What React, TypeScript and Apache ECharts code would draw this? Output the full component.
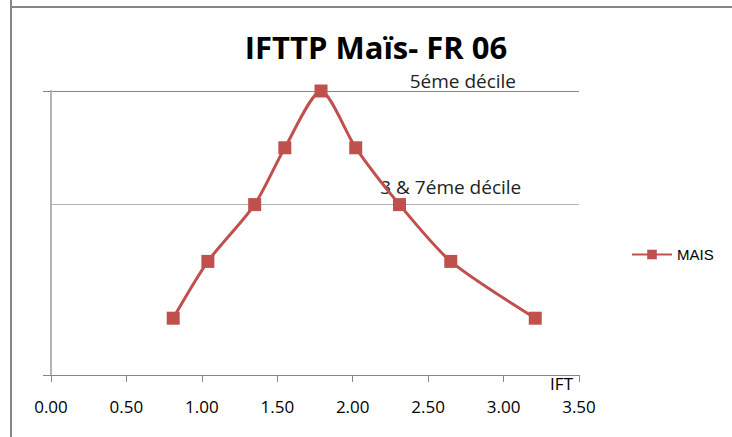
import React, { useEffect, useRef } from "react";
import * as echarts from "echarts";

const seriesName = "MAIS";
const iftValues = [0.81, 1.04, 1.35, 1.55, 1.79, 2.02, 2.31, 2.65, 3.21];
const decileLevels = [1, 2, 3, 4, 5, 4, 3, 2, 1];
const xTicks = { min: 0, max: 3.5, interval: 0.5 };
const decileLabels = [
  { text: "5éme décile", x: 2.73, y: 5 },
  { text: "3 & 7éme décile", x: 2.65, y: 3 },
];
const decileLabelGaps = [0, 8];
const decileLineValue = 3;

export default function App() {
  const ref = useRef<HTMLDivElement>(null);
  useEffect(() => {
    if (!ref.current) return;
    const chart = echarts.init(ref.current, undefined, { renderer: "svg" });
    const font = "'Open Sans', sans-serif";
    chart.setOption({
      animation: false,
      backgroundColor: "#ffffff",
      title: {
        text: "IFTTP Maïs- FR 06",
        left: 371,
        top: 26,
        textAlign: "center",
        textStyle: { fontFamily: font, fontSize: 31, fontWeight: "bold", color: "#000" },
      },
      graphic: [
        { type: "line", shape: { x1: 11, y1: 0, x2: 11, y2: 437 }, style: { stroke: "#878787", lineWidth: 2 } },
        { type: "line", shape: { x1: 10, y1: 7, x2: 732, y2: 7 }, style: { stroke: "#878787", lineWidth: 2 } },
      ],
      legend: {
        left: 626,
        top: 242,
        orient: "vertical",
        itemWidth: 40,
        itemHeight: 12,
        itemGap: 6,
        textStyle: { fontFamily: "'Liberation Sans', Arial, sans-serif", fontSize: 15, color: "#000" },
        data: [seriesName],
      },
      grid: { left: 51, right: 153, top: 91, bottom: 62, containLabel: false },
      xAxis: {
        type: "value",
        min: xTicks.min,
        max: xTicks.max,
        interval: xTicks.interval,
        name: "IFT",
        nameLocation: "end",
        nameGap: 0,
        nameTextStyle: {
          fontFamily: font,
          fontSize: 17,
          color: "#000",
          align: "right",
          verticalAlign: "top",
          padding: [0, 6, 0, 0],
        },
        axisLine: { show: true, onZero: false, lineStyle: { color: "#868686", width: 1 } },
        axisTick: { show: true, inside: false, length: 7, lineStyle: { color: "#868686" } },
        axisLabel: {
          margin: 23,
          fontFamily: font,
          fontSize: 17,
          color: "#000",
          formatter: (v: number) => v.toFixed(2),
        },
        splitLine: { show: false },
      },
      yAxis: {
        type: "value",
        min: 0,
        max: 5,
        interval: 5,
        axisLine: { show: true, lineStyle: { color: "#b4b4b4", width: 2 } },
        axisTick: { show: true, inside: false, length: 8, lineStyle: { color: "#868686" } },
        axisLabel: { show: false },
        splitLine: { show: true, lineStyle: { color: "#868686", width: 1 } },
      },
      series: [
        {
          name: seriesName,
          type: "line",
          smooth: 0.25,
          data: iftValues.map((x, i) => [x, decileLevels[i]]),
          symbol: "rect",
          symbolSize: 13,
          lineStyle: { color: "#c0504d", width: 3 },
          itemStyle: { color: "#c0504d" },
          z: 5,
          markLine: {
            silent: true,
            symbol: "none",
            label: { show: false },
            lineStyle: { color: "#b0b0b0", width: 1, type: "solid" },
            data: [{ yAxis: decileLineValue }],
            z: 1,
          },
          markPoint: {
            silent: true,
            symbol: "rect",
            symbolSize: 1,
            itemStyle: { color: "rgba(0,0,0,0)" },
            label: {
              show: true,
              position: "top",
              distance: 0,
              fontFamily: font,
              fontSize: 19,
              color: "#222",
              formatter: (p: any) => p.name,
            },
            data: decileLabels.map((d, i) => ({
              name: d.text,
              coord: [d.x, d.y],
              label: { distance: decileLabelGaps[i] },
            })),
          },
        },
      ],
    });
    return () => chart.dispose();
  }, []);
  return (
    <div
      ref={ref}
      style={{ position: "fixed", left: 0, top: 0, width: 732, height: 437 }}
    />
  );
}
